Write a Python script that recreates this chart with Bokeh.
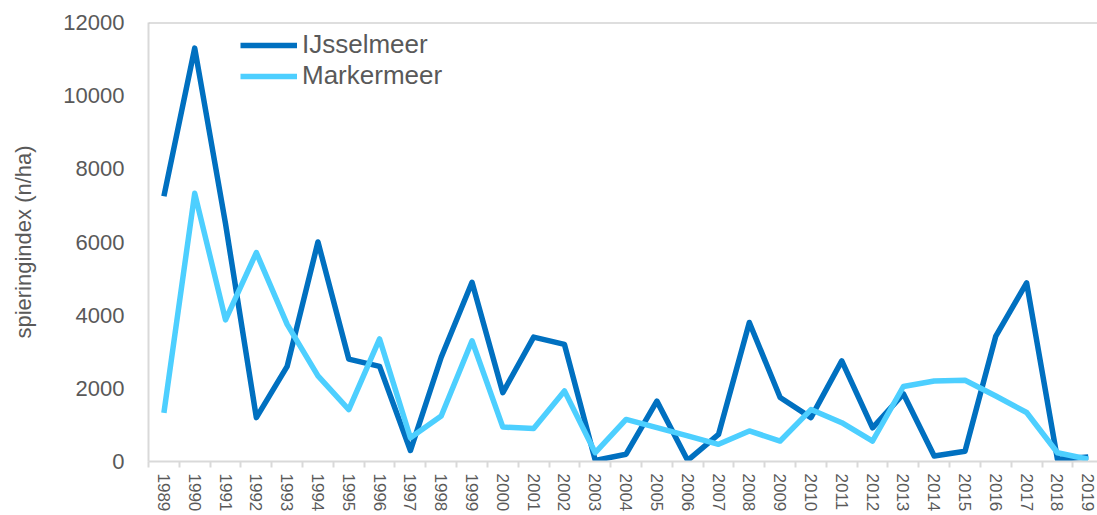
from bokeh.plotting import figure
from bokeh.models import FixedTicker, Span, Legend, LegendItem, Range1d
from bokeh.embed import file_html
from bokeh.resources import INLINE

years = list(range(1989, 2020))
ijsselmeer = [7250, 11300, 6500, 1200, 2600, 6000, 2800, 2600, 300, 2850,
              4900, 1880, 3400, 3200, 30, 200, 1650, 30, 740, 3800,
              1750, 1200, 2750, 920, 1850, 150, 280, 3430, 4880, 60, 120]
markermeer = [1330, 7330, 3870, 5710, 3750, 2340, 1420, 3350, 650, 1245,
              3300, 940, 900, 1930, 240, 1150, 925, 700, 470, 835,
              560, 1420, 1060, 560, 2050, 2200, 2220, 1790, 1340, 240, 60]
y_ticks = [0, 2000, 4000, 6000, 8000, 10000, 12000]
series_names = ["IJsselmeer", "Markermeer"]
series_colors = ["#0070c0", "#4dcfff"]

TEXT = "#595959"
FONT = "Liberation Sans"

p = figure(width=1097, height=515, output_backend="svg", toolbar_location=None,
           x_range=Range1d(years[0] - 0.5, years[-1] + 0.3),
           y_range=Range1d(0, 12000),
           min_border_left=148, min_border_right=0, min_border_top=22,
           min_border_bottom=54)
p.outline_line_color = None
p.xgrid.visible = False
p.ygrid.visible = False
p.background_fill_color = "white"
p.border_fill_color = "white"

r1 = p.line(years, ijsselmeer, line_color=series_colors[0], line_width=5.5, line_join="round")
r2 = p.line(years, markermeer, line_color=series_colors[1], line_width=5.5, line_join="round")

p.add_layout(Span(location=12000, dimension="width", line_color="#bdbdbd", line_width=2))

# x axis
p.xaxis.ticker = FixedTicker(ticks=years, minor_ticks=[y - 0.5 for y in years] + [years[-1] + 0.5])
p.xaxis.major_tick_line_color = None
p.xaxis.major_tick_out = 0
p.xaxis.major_tick_in = 0
p.xaxis.minor_tick_out = 6
p.xaxis.minor_tick_in = 0
p.xaxis.minor_tick_line_color = "#d9d9d9"
p.xaxis.minor_tick_line_width = 2
p.xaxis.axis_line_color = "#d9d9d9"
p.xaxis.axis_line_width = 2
p.xaxis.major_label_orientation = "vertical"
p.xaxis.major_label_text_font = FONT
p.xaxis.major_label_text_font_size = "17px"
p.xaxis.major_label_text_color = TEXT
p.xaxis.major_label_standoff = 6

# y axis
p.yaxis.ticker = FixedTicker(ticks=y_ticks)
p.yaxis.major_tick_line_color = None
p.yaxis.minor_tick_line_color = None
p.yaxis.axis_line_color = "#d9d9d9"
p.yaxis.axis_line_width = 2
p.yaxis.major_label_text_font = FONT
p.yaxis.major_label_text_font_size = "22px"
p.yaxis.major_label_text_color = TEXT
p.yaxis.major_label_standoff = 18
p.yaxis.axis_label = "spieringindex (n/ha)"
p.yaxis.axis_label_text_font = FONT
p.yaxis.axis_label_text_font_size = "22px"
p.yaxis.axis_label_text_font_style = "normal"
p.yaxis.axis_label_text_color = TEXT
p.yaxis.axis_label_standoff = 24

legend = Legend(items=[LegendItem(label=series_names[0], renderers=[r1]),
                       LegendItem(label=series_names[1], renderers=[r2])],
                location=(92, 370), orientation="vertical")
legend.glyph_width = 57
legend.glyph_height = 30
legend.spacing = 0
legend.padding = 0
legend.margin = 0
legend.label_standoff = 5
legend.label_text_font = FONT
legend.label_text_font_size = "26px"
legend.label_text_color = TEXT
legend.border_line_color = None
legend.background_fill_alpha = 0
p.add_layout(legend)

open("out.html", "w").write(file_html(p, INLINE))
